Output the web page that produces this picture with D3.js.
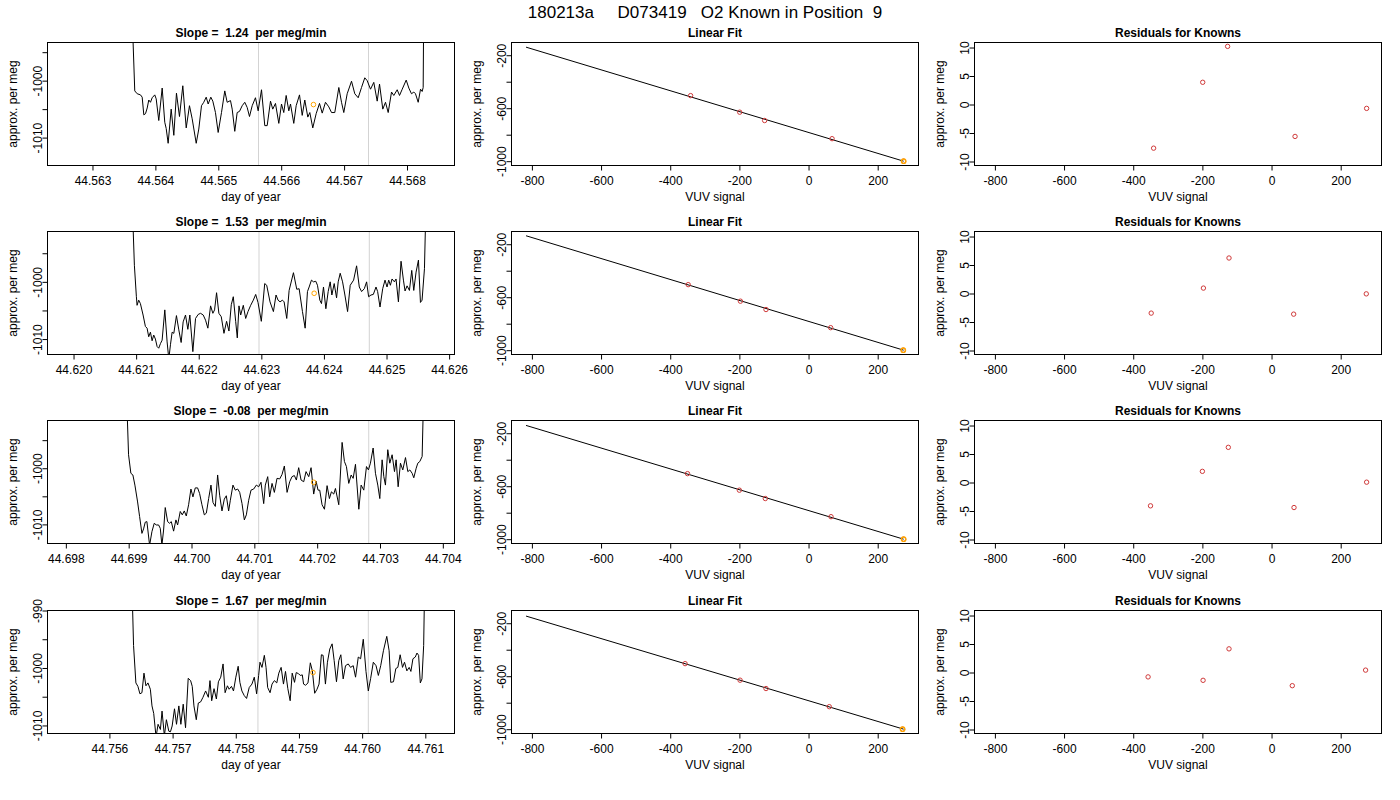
<!DOCTYPE html>
<html>
<head>
<meta charset="utf-8">
<script src="https://cdn.jsdelivr.net/npm/d3@7"></script>
<style>
  body { margin: 0; background: #fff; }
  svg { font-family: "Liberation Sans", Arial, Helvetica, sans-serif; }
  text { white-space: pre; }
</style>
</head>
<body>
<script>
// ---- data ----
var mainTitle = "180213a     D073419   O2 Known in Position  9";
var slopes = ["1.24", "1.53", "-0.08", "1.67"];

// time series, one pair of arrays per row (day of year / approx. per meg)
var day1 = [44.563620,44.563672,44.563711,44.563763,44.563790,44.563816,44.563843,44.563870,44.563895,44.563922,44.563949,44.563990,44.564013,44.564054,44.564108,44.564149,44.564172,44.564203,44.564251,44.564293,44.564335,44.564383,44.564436,44.564490,44.564542,44.564585,44.564649,44.564690,44.564733,44.564769,44.564808,44.564839,44.564881,44.564913,44.564955,44.564998,44.565051,44.565103,44.565141,44.565194,44.565221,44.565262,44.565300,44.565337,44.565380,44.565421,44.565459,44.565496,44.565539,44.565591,44.565634,44.565687,44.565739,44.565777,44.565830,44.565866,44.565909,44.565962,44.566005,44.566041,44.566079,44.566121,44.566148,44.566200,44.566238,44.566291,44.566334,44.566375,44.566423,44.566455,44.566502,44.566556,44.566609,44.566652,44.566704,44.566757,44.566800,44.566852,44.566916,44.566959,44.566995,44.567049,44.567118,44.567170,44.567224,44.567277,44.567329,44.567367,44.567420,44.567472,44.567526,44.567563,44.567615,44.567658,44.567701,44.567754,44.567790,44.567844,44.567881,44.567924,44.567987,44.568029,44.568071,44.568108,44.568135,44.568178,44.568215,44.568241,44.568257,44.568267];
var val1 = [-985,-1001.8,-1002.3,-1002.5,-1002.9,-1006.0,-1005.8,-1004.8,-1003.4,-1003.8,-1003.0,-1002.5,-1003.2,-1007.0,-1001.3,-1007.3,-1008.4,-1011.0,-1005.0,-1009.6,-1002.2,-1006.3,-1000.9,-1008.3,-1004.4,-1006.7,-1011.0,-1008.5,-1004.4,-1003.8,-1002.9,-1004.1,-1002.9,-1003.6,-1005.6,-1009.1,-1005.6,-1001.8,-1003.8,-1003.5,-1005.0,-1008.9,-1005.6,-1005.4,-1004.4,-1003.8,-1004.7,-1006.3,-1004.4,-1003.0,-1005.3,-1001.6,-1007.9,-1007.9,-1003.6,-1005.0,-1004.0,-1007.5,-1004.1,-1005.6,-1002.6,-1005.3,-1004.1,-1007.5,-1004.4,-1002.5,-1006.1,-1003.4,-1006.4,-1005.6,-1008.3,-1005.8,-1004.0,-1005.7,-1003.8,-1004.6,-1005.6,-1005.6,-1001.2,-1003.8,-1005.6,-1002.3,-1000.1,-1002.3,-1003.0,-1001.2,-999.5,-1000.0,-1001.5,-1000.3,-1003.6,-1000.6,-1005.0,-1003.8,-1005.6,-1002.0,-1002.6,-1001.6,-1002.6,-1001.5,-999.9,-1001.3,-1002.3,-1002.0,-1002.3,-1003.8,-1001.5,-1001.9,-1001.2,-985];

var day2 = [44.620934,44.620972,44.621004,44.621015,44.621041,44.621068,44.621111,44.621148,44.621175,44.621201,44.621228,44.621255,44.621281,44.621308,44.621335,44.621361,44.621388,44.621415,44.621458,44.621495,44.621522,44.621548,44.621575,44.621602,44.621644,44.621682,44.621719,44.621751,44.621789,44.621826,44.621858,44.621906,44.621949,44.621991,44.622029,44.622072,44.622109,44.622146,44.622189,44.622226,44.622253,44.622285,44.622322,44.622360,44.622403,44.622445,44.622483,44.622520,44.622552,44.622590,44.622616,44.622643,44.622670,44.622712,44.622750,44.622787,44.622830,44.622872,44.622910,44.622947,44.623000,44.623054,44.623086,44.623139,44.623193,44.623235,44.623267,44.623299,44.623337,44.623364,44.623406,44.623444,44.623513,44.623566,44.623604,44.623657,44.623700,44.623737,44.623764,44.623801,44.623833,44.623870,44.623897,44.623935,44.623961,44.623993,44.624031,44.624068,44.624100,44.624127,44.624164,44.624202,44.624228,44.624260,44.624298,44.624335,44.624378,44.624420,44.624474,44.624522,44.624565,44.624602,44.624645,44.624682,44.624714,44.624752,44.624789,44.624832,44.624858,44.624896,44.624939,44.624976,44.625008,44.625035,44.625062,44.625088,44.625126,44.625152,44.625190,44.625232,44.625270,44.625296,44.625328,44.625366,44.625403,44.625435,44.625472,44.625510,44.625542,44.625568,44.625606,44.625633];
var val2 = [-985,-997.1,-1002.6,-1004.1,-1003.2,-1003.8,-1005.8,-1007.8,-1008.1,-1009.6,-1008.8,-1010.3,-1009.3,-1010.0,-1011.3,-1011.6,-1010.8,-1010.2,-1004.9,-1010.5,-1013.5,-1011.0,-1008.8,-1009.0,-1005.9,-1008.4,-1010.6,-1007.0,-1005.8,-1008.3,-1005.8,-1012.2,-1006.4,-1005.7,-1005.5,-1005.8,-1006.7,-1008.1,-1004.2,-1005.5,-1004.9,-1001.9,-1005.5,-1006.1,-1009.0,-1006.9,-1008.6,-1004.0,-1002.6,-1006.9,-1009.8,-1004.2,-1005.8,-1004.1,-1006.4,-1005.2,-1004.1,-1003.2,-1002.2,-1003.6,-1006.9,-1000.3,-1000.6,-1003.5,-1005.2,-1002.3,-1003.2,-1003.5,-1003.2,-1003.5,-1006.4,-1001.5,-998.4,-1001.3,-1001.2,-1005.2,-1008.1,-1001.7,-1000.9,-999.7,-1000.0,-999.9,-1000.6,-1003.2,-1003.8,-1000.9,-1004.7,-1001.7,-1000.0,-1002.3,-1000.3,-1002.8,-1000.0,-998.5,-1000.0,-1002.3,-1005.2,-1000.6,-999.7,-997.2,-1000.9,-1001.7,-1001.2,-1000.0,-1002.6,-1002.3,-1002.2,-1000.9,-1001.7,-1004.4,-1001.2,-999.7,-1000.9,-999.7,-1000.6,-999.5,-1000.0,-999.5,-1003.5,-996.4,-999.7,-1001.6,-1000.7,-1001.5,-998.0,-1001.5,-998.3,-996.2,-1003.6,-1003.2,-997.7,-985];

var day3 = [44.698961,44.698998,44.699035,44.699067,44.699099,44.699142,44.699174,44.699211,44.699237,44.699264,44.699290,44.699333,44.699370,44.699407,44.699439,44.699476,44.699503,44.699529,44.699556,44.699582,44.699620,44.699651,44.699678,44.699715,44.699752,44.699779,44.699821,44.699853,44.699885,44.699917,44.699954,44.699991,44.700023,44.700060,44.700097,44.700129,44.700166,44.700204,44.700236,44.700273,44.700310,44.700342,44.700379,44.700416,44.700448,44.700485,44.700522,44.700554,44.700591,44.700618,44.700660,44.700697,44.700735,44.700767,44.700804,44.700841,44.700873,44.700910,44.700947,44.700990,44.701032,44.701069,44.701106,44.701149,44.701175,44.701213,44.701244,44.701282,44.701319,44.701361,44.701404,44.701441,44.701478,44.701521,44.701563,44.701600,44.701637,44.701669,44.701706,44.701744,44.701786,44.701823,44.701866,44.701903,44.701945,44.701983,44.702014,44.702041,44.702078,44.702116,44.702158,44.702195,44.702227,44.702264,44.702291,44.702344,44.702397,44.702434,44.702466,44.702503,44.702541,44.702573,44.702610,44.702663,44.702700,44.702742,44.702785,44.702816,44.702848,44.702891,44.702928,44.702965,44.702997,44.703034,44.703061,44.703087,44.703124,44.703156,44.703193,44.703231,44.703257,44.703289,44.703326,44.703363,44.703406,44.703443,44.703475,44.703512,44.703538,44.703576,44.703602,44.703634,44.703671,44.703698];
var val3 = [-985,-997.6,-1000.9,-1001.2,-1003.0,-1006.0,-1008.6,-1011.6,-1010.8,-1009.6,-1009.5,-1013.7,-1011.3,-1009.8,-1010.1,-1010.1,-1010.7,-1013.7,-1011.0,-1007.0,-1009.5,-1009.8,-1009.5,-1011.2,-1009.2,-1010.1,-1007.7,-1008.3,-1007.6,-1008.5,-1006.5,-1003.7,-1005.1,-1003.5,-1003.5,-1004.5,-1006.5,-1008.3,-1008.0,-1005.4,-1003.0,-1006.1,-1006.8,-1001.2,-1004.8,-1007.6,-1005.5,-1004.9,-1007.6,-1005.7,-1003.0,-1003.9,-1003.7,-1004.3,-1006.3,-1009.2,-1008.3,-1005.7,-1003.9,-1003.7,-1003.0,-1003.3,-1002.5,-1006.3,-1003.0,-1001.5,-1005.1,-1002.7,-1004.3,-1001.8,-1001.9,-1001.1,-999.6,-1004.3,-1002.4,-1001.5,-1001.3,-1002.1,-999.9,-1002.1,-1002.4,-1000.6,-1001.5,-999.9,-1004.6,-1002.3,-1003.9,-1003.9,-1006.5,-1007.3,-1003.1,-1005.4,-1004.2,-1004.6,-1003.6,-1006.5,-995.4,-998.8,-999.7,-1002.7,-1001.2,-1001.8,-999.3,-1007.3,-1003.0,-1003.9,-999.7,-1000.3,-999.1,-996.4,-1000.9,-1003.0,-1005.4,-998.5,-1001.5,-1003.0,-996.7,-999.1,-997.6,-1000.6,-998.5,-1003.3,-999.1,-1000.3,-998.1,-1000.6,-1000.3,-1000.9,-1001.7,-1000.0,-999.1,-998.8,-997.9,-985];

var day4 = [44.756356,44.756382,44.756419,44.756451,44.756483,44.756515,44.756547,44.756578,44.756610,44.756648,44.756674,44.756701,44.756738,44.756770,44.756807,44.756833,44.756870,44.756902,44.756940,44.756966,44.756993,44.757030,44.757062,44.757099,44.757131,44.757168,44.757205,44.757247,44.757285,44.757311,44.757338,44.757375,44.757407,44.757444,44.757481,44.757523,44.757566,44.757592,44.757619,44.757656,44.757693,44.757725,44.757762,44.757799,44.757831,44.757868,44.757895,44.757932,44.757964,44.758001,44.758038,44.758065,44.758097,44.758134,44.758171,44.758213,44.758256,44.758293,44.758330,44.758362,44.758383,44.758415,44.758452,44.758479,44.758505,44.758543,44.758574,44.758611,44.758649,44.758681,44.758718,44.758755,44.758787,44.758824,44.758861,44.758893,44.758930,44.758957,44.758994,44.759021,44.759053,44.759073,44.759105,44.759143,44.759180,44.759212,44.759249,44.759286,44.759318,44.759355,44.759382,44.759419,44.759451,44.759488,44.759525,44.759557,44.759594,44.759631,44.759663,44.759700,44.759737,44.759780,44.759817,44.759859,44.759896,44.759939,44.759976,44.760018,44.760061,44.760098,44.760135,44.760177,44.760220,44.760257,44.760294,44.760337,44.760390,44.760427,44.760453,44.760496,44.760533,44.760565,44.760602,44.760639,44.760671,44.760708,44.760745,44.760772,44.760804,44.760841,44.760868,44.760894,44.760921,44.760947,44.760974,44.760990];
var val4 = [-985,-996.1,-1002.6,-1003.2,-1004.5,-1004.3,-1000.9,-1003.1,-1002.6,-1003.7,-1006.6,-1007.9,-1012.0,-1009.8,-1010.7,-1007.5,-1011.8,-1009.0,-1011.0,-1011.1,-1010.1,-1007.1,-1009.8,-1006.6,-1009.8,-1006.3,-1010.4,-1001.8,-1002.2,-1003.2,-1006.6,-1009.0,-1006.1,-1005.9,-1005.1,-1004.0,-1005.1,-1002.2,-1005.7,-1003.6,-1005.4,-1002.4,-1001.6,-999.3,-1004.3,-1003.1,-1003.7,-1003.2,-1004.0,-1001.6,-999.7,-1002.5,-1004.0,-1004.8,-1005.3,-1003.4,-1002.8,-1001.6,-1004.5,-1001.3,-999.0,-999.9,-997.8,-999.9,-1003.4,-1004.3,-1002.8,-1002.2,-1002.6,-1000.9,-999.9,-1002.8,-1000.6,-1003.6,-1005.7,-1000.9,-1002.5,-1000.8,-1001.0,-1001.3,-1001.2,-1002.8,-1003.0,-1002.6,-999.1,-1000.5,-1004.4,-1003.7,-1002.8,-997.7,-997.8,-1002.8,-999.0,-996.7,-995.8,-998.7,-1002.4,-998.7,-997.7,-1001.9,-999.6,-999.3,-999.9,-999.6,-1001.6,-998.1,-998.4,-995.0,-1000.6,-1004.0,-1001.8,-999.0,-999.6,-1001.3,-999.6,-997.0,-994.5,-997.0,-1002.5,-1002.4,-1000.1,-999.9,-997.7,-999.9,-999.0,-1000.5,-999.9,-1000.6,-998.4,-998.1,-997.4,-997.8,-1002.6,-1001.9,-996.1,-985];

// axis limits of the time panels
var dayLimits = [[44.562285, 44.568755], [44.619584, 44.626086], [44.697708, 44.704186], [44.75502, 44.761462]];
var valLimits = [[-1014.9, -993.3], [-1012.7, -991.2], [-1013.4, -991.5], [-1011.4, -990.0]];
// grey cut lines and the orange mean marker
var cutDays = [[44.565639, 44.567388], [44.622963, 44.624725], [44.701069, 44.702821], [44.758351, 44.760098]];
var markDay = [44.566513, 44.623844, 44.701945, 44.759222];
var markVal = [-1004.2, -1002.0, -1002.5, -1000.8];

// knowns: VUV signal, assigned per meg, residuals
var knownPerMeg = [-505, -630, -693, -830, -1000];
var vuv1 = [-341, -199, -127, 68, 275];
var vuv2 = [-348, -197, -123, 64, 274];
var vuv3 = [-350, -200, -125, 65, 275];
var vuv4 = [-357, -198, -123, 60, 272];
var resid1 = [-7.66, 3.9, 10.2, -5.6, -0.68];
var resid2 = [-3.44, 0.95, 6.23, -3.62, -0.06];
var resid3 = [-4.09, 1.96, 6.17, -4.39, 0.06];
var resid4 = [-0.77, -1.37, 4.15, -2.31, 0.42];
// fitted line end points
var fitVuv = [-817, 275];
var fitPerMeg = [[-139, -1000], [-136, -1000], [-141, -1000], [-146, -1000]];

var vuvTicks = [-800, -600, -400, -200, 0, 200];
var perMegTicks = [-1000, -800, -600, -400, -200];
var perMegLabels = [-1000, -600, -200];
var residTicks = [-10, -5, 0, 5, 10];

// ---- layout ----
var W = 1400, H = 800;
var colLeft = [47, 511, 974];
var rowTop = [42, 231, 420, 610];
var pw = 407, ph = 123;

var svg = d3.select("body").append("svg").attr("width", W).attr("height", H);

svg.append("text")
    .attr("x", 705).attr("y", 17.5)
    .attr("text-anchor", "middle")
    .style("font-size", "17px")
    .text(mainTitle);

var days = [day1, day2, day3, day4];
var vals = [val1, val2, val3, val4];
var vuvs = [vuv1, vuv2, vuv3, vuv4];
var resids = [resid1, resid2, resid3, resid4];

function fmt(v) { return String(v); }

function frame(g, x, y, xt, yt, ylab, title, xlab, xfmt, yfmt) {
  var xa = g.append("g").attr("transform", "translate(0," + ph + ")")
      .call(d3.axisBottom(x).tickValues(xt).tickSize(5).tickSizeOuter(0).tickFormat(xfmt));
  xa.select(".domain").remove();
  xa.selectAll("text").attr("dy", null).attr("y", 19.5).style("font-size", "12px").attr("fill", "#000");

  var ya = g.append("g")
      .call(d3.axisLeft(y).tickValues(yt).tickSize(5).tickSizeOuter(0).tickFormat(yfmt));
  ya.select(".domain").remove();
  ya.selectAll("text").attr("x", 0).attr("dy", null)
    .attr("transform", "translate(-6,0) rotate(-90)")
    .attr("text-anchor", "middle").style("font-size", "12px").attr("fill", "#000");

  g.append("rect").attr("width", pw).attr("height", ph)
    .attr("fill", "none").attr("stroke", "#000");

  g.append("text").attr("x", pw / 2).attr("y", -5.5).attr("text-anchor", "middle")
    .style("font-size", "12px").style("font-weight", "bold").text(title);
  g.append("text").attr("x", pw / 2).attr("y", ph + 35.5).attr("text-anchor", "middle")
    .style("font-size", "12px").text(xlab);
  g.append("text").attr("transform", "translate(-31," + (ph / 2) + ") rotate(-90)")
    .attr("text-anchor", "middle").style("font-size", "12px").text(ylab);
}

for (var r = 0; r < 4; r++) {
  // --- time series panel ---
  var g = svg.append("g").attr("transform", "translate(" + (colLeft[0] + 0.5) + "," + (rowTop[r] + 0.5) + ")");
  var x = d3.scaleLinear().domain(dayLimits[r]).range([0, pw]);
  var y = d3.scaleLinear().domain(valLimits[r]).range([ph, 0]);
  var xt = d3.range(Math.ceil(dayLimits[r][0] * 1000), Math.floor(dayLimits[r][1] * 1000) + 1).map(function(k) { return k / 1000; });
  var yt = d3.range(Math.ceil(valLimits[r][0] / 5), Math.floor(valLimits[r][1] / 5) + 1).map(function(k) { return k * 5; });

  var clipId = "clip" + r;
  g.append("clipPath").attr("id", clipId).append("rect").attr("width", pw).attr("height", ph);
  var inner = g.append("g").attr("clip-path", "url(#" + clipId + ")");

  inner.selectAll("line.cut").data(cutDays[r]).enter().append("line")
    .attr("x1", function(d) { return x(d); }).attr("x2", function(d) { return x(d); })
    .attr("y1", 0).attr("y2", ph).attr("stroke", "#d3d3d3");

  var pts = d3.zip(days[r], vals[r]);
  inner.append("path").datum(pts)
    .attr("fill", "none").attr("stroke", "#000").attr("stroke-width", 1)
    .attr("d", d3.line().x(function(d) { return x(d[0]); }).y(function(d) { return y(d[1]); }));

  inner.append("circle").attr("cx", x(markDay[r])).attr("cy", y(markVal[r])).attr("r", 2.3)
    .attr("fill", "none").attr("stroke", "orange");

  frame(g, x, y, xt, yt, "approx. per meg", "Slope =  " + slopes[r] + "  per meg/min", "day of year",
        d3.format(".3f"), function(v) { return v % 10 === 0 ? fmt(v) : ""; });

  // --- linear fit panel ---
  var g2 = svg.append("g").attr("transform", "translate(" + (colLeft[1] + 0.5) + "," + (rowTop[r] + 0.5) + ")");
  var x2 = d3.scaleLinear().domain([-859, 318]).range([0, pw]);
  var y2 = d3.scaleLinear().domain([-1032.6, -103.9]).range([ph, 0]);
  g2.append("line")
    .attr("x1", x2(fitVuv[0])).attr("y1", y2(fitPerMeg[r][0]))
    .attr("x2", x2(fitVuv[1])).attr("y2", y2(fitPerMeg[r][1]))
    .attr("stroke", "#000");
  var kp = d3.zip(vuvs[r], knownPerMeg);
  g2.selectAll("circle.k").data(kp).enter().append("circle")
    .attr("cx", function(d) { return x2(d[0]); }).attr("cy", function(d) { return y2(d[1]); })
    .attr("r", 2.2).attr("fill", "none").attr("stroke", "#d03a3a");
  var last = kp[kp.length - 1];
  g2.append("circle").attr("cx", x2(last[0])).attr("cy", y2(last[1])).attr("r", 2.2)
    .attr("fill", "none").attr("stroke", "orange").attr("stroke-width", 1.4);
  frame(g2, x2, y2, vuvTicks, perMegTicks, "approx. per meg", "Linear Fit", "VUV signal",
        fmt, function(v) { return perMegLabels.indexOf(v) >= 0 ? fmt(v) : ""; });

  // --- residual panel ---
  var g3 = svg.append("g").attr("transform", "translate(" + (colLeft[2] + 0.5) + "," + (rowTop[r] + 0.5) + ")");
  var x3 = d3.scaleLinear().domain([-859, 318]).range([0, pw]);
  var y3 = d3.scaleLinear().domain([-10.7, 10.88]).range([ph, 0]);
  g3.selectAll("circle.r").data(d3.zip(vuvs[r], resids[r])).enter().append("circle")
    .attr("cx", function(d) { return x3(d[0]); }).attr("cy", function(d) { return y3(d[1]); })
    .attr("r", 2.2).attr("fill", "none").attr("stroke", "#d03a3a");
  frame(g3, x3, y3, vuvTicks, residTicks, "approx. per meg", "Residuals for Knowns", "VUV signal",
        fmt, fmt);
}
</script>
</body>
</html>
